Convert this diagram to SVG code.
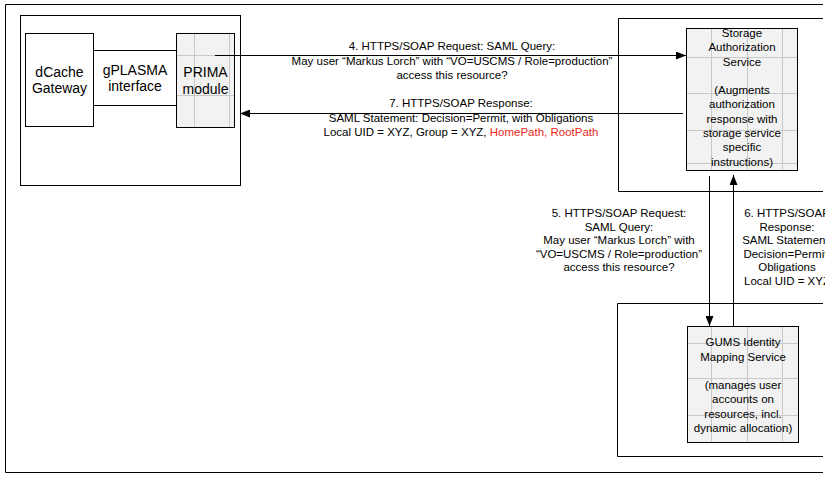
<svg xmlns="http://www.w3.org/2000/svg" width="836" height="480" viewBox="0 0 836 480">
<defs>
<style>
.ln{fill:none;stroke:#000;stroke-width:1}
.box{fill:#fff;stroke:#000;stroke-width:1}
.gbox{fill:#f2f2f2;stroke:none}
.grid{fill:none;stroke:#c8c8c8;stroke-width:1}
.t{font-family:"Liberation Sans",Arial,sans-serif;font-size:11.5px;fill:#000;text-anchor:middle}
.big{font-family:"Liberation Sans",Arial,sans-serif;font-size:14px;fill:#000;text-anchor:middle}
.red{fill:#e8291c}
</style>
<marker id="ah" viewBox="0 0 10 8" refX="10" refY="4" markerWidth="10" markerHeight="8" markerUnits="userSpaceOnUse" orient="auto">
<path d="M0,0 L10,4 L0,8 Z" fill="#000"/>
</marker>
<clipPath id="edge"><rect x="0" y="0" width="825" height="480"/></clipPath>
</defs>
<rect width="836" height="480" fill="#fff"/>

<g id="frame">
<path class="ln" d="M823,4.5 H5.5 V472.5 H823"/>
</g>

<g id="client-host">
<rect class="box" x="20.5" y="15.5" width="220" height="170"/>
</g>

<g id="dcache-gateway">
<rect class="box" x="25.5" y="33.5" width="68" height="93"/>
<text class="big" x="59.5" y="77">dCache</text>
<text class="big" x="59.5" y="93">Gateway</text>
</g>

<g id="gplasma-interface">
<path class="ln" d="M94,50.5 H176 M94,105.5 H176"/>
<text class="big" x="135" y="75">gPLASMA</text>
<text class="big" x="135" y="91">interface</text>
</g>

<g id="prima-module">
<rect class="gbox" x="176" y="33" width="59" height="95"/>
<path class="grid" d="M194.5,34 V127 M229.5,34 V127 M177,55.5 H234 M177,95.5 H234"/>
<rect class="ln" x="176.5" y="33.5" width="58" height="94"/>
<text class="big" x="205.5" y="77">PRIMA</text>
<text class="big" x="205.5" y="94">module</text>
</g>

<g id="storage-host">
<path class="ln" d="M823,18.5 H618.5 V191.5 H823"/>
</g>

<g id="storage-authorization-service">
<rect class="gbox" x="686" y="28" width="112" height="143"/>
<path class="grid" d="M711.5,29 V170 M747.5,29 V170 M782.5,29 V170 M687,57.5 H797 M687,93.5 H797 M687,130.5 H797 M687,163.5 H797"/>
<rect class="ln" x="686.5" y="28.5" width="111" height="142"/>
<text class="t" x="742" y="37">Storage</text>
<text class="t" x="742" y="51">Authorization</text>
<text class="t" x="742" y="65.5">Service</text>
<text class="t" x="742" y="94">(Augments</text>
<text class="t" x="742" y="108">authorization</text>
<text class="t" x="742" y="122.5">response with</text>
<text class="t" x="742" y="137">storage service</text>
<text class="t" x="742" y="151">specific</text>
<text class="t" x="742" y="165.5">instructions)</text>
</g>

<g id="gums-host">
<path class="ln" d="M823,303.5 H617.5 V456.5 H823"/>
</g>

<g id="gums-identity-mapping-service">
<rect class="gbox" x="687" y="326" width="112" height="117"/>
<path class="grid" d="M711.5,327 V442 M747.5,327 V442 M782.5,327 V442 M688,343.5 H798 M688,378.5 H798 M688,415.5 H798"/>
<rect class="ln" x="687.5" y="326.5" width="111" height="116"/>
<text class="t" x="743" y="346">GUMS Identity</text>
<text class="t" x="743" y="360.5">Mapping Service</text>
<text class="t" x="743" y="389">(manages user</text>
<text class="t" x="743" y="403">accounts on</text>
<text class="t" x="743" y="417.5">resources, incl.</text>
<text class="t" x="743" y="431.5">dynamic allocation)</text>
</g>

<g id="connectors">
<line class="ln" x1="215" y1="55.5" x2="686" y2="55.5" marker-end="url(#ah)"/>
<line class="ln" x1="683" y1="113.5" x2="240" y2="113.5" marker-end="url(#ah)"/>
<line class="ln" x1="709.5" y1="176" x2="709.5" y2="326" marker-end="url(#ah)"/>
<line class="ln" x1="733.5" y1="326" x2="733.5" y2="175" marker-end="url(#ah)"/>
</g>

<g id="labels">
<text class="t" x="452" y="50">4. HTTPS/SOAP Request: SAML Query:</text>
<text class="t" x="452" y="64.5">May user “Markus Lorch” with “VO=USCMS / Role=production”</text>
<text class="t" x="452" y="78.5">access this resource?</text>
<text class="t" x="461" y="107">7. HTTPS/SOAP Response:</text>
<text class="t" x="461" y="121.5">SAML Statement: Decision=Permit, with Obligations</text>
<text class="t" x="461" y="136">Local UID = XYZ, Group = XYZ, <tspan class="red">HomePath, RootPath</tspan></text>
<text class="t" x="619" y="217">5. HTTPS/SOAP Request:</text>
<text class="t" x="619" y="230.5">SAML Query:</text>
<text class="t" x="619" y="244">May user “Markus Lorch” with</text>
<text class="t" x="619" y="257.5">“VO=USCMS / Role=production”</text>
<text class="t" x="619" y="271">access this resource?</text>
<g clip-path="url(#edge)">
<text class="t" x="787" y="217">6. HTTPS/SOAP</text>
<text class="t" x="787" y="230.5">Response:</text>
<text class="t" x="787" y="244">SAML Statement:</text>
<text class="t" x="787" y="257.5">Decision=Permit,</text>
<text class="t" x="787" y="271">Obligations</text>
<text class="t" x="787" y="284.5">Local UID = XYZ</text>
</g>
</g>
</svg>
